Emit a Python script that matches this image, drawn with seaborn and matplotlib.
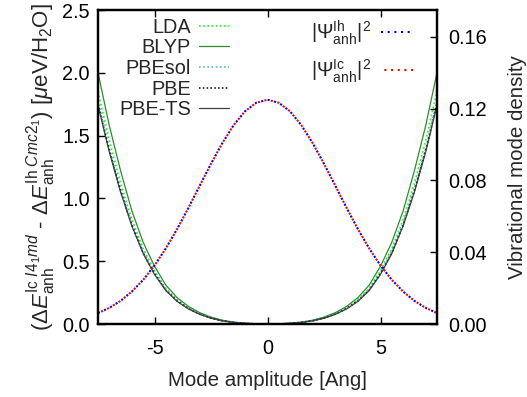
import matplotlib
matplotlib.use("Agg")
import matplotlib.pyplot as plt
import seaborn as sns
import pandas as pd

amplitude = [-7.5, -7.0, -6.5, -6.0, -5.5, -5.0, -4.5, -4.0, -3.5, -3.0, -2.5, -2.0, -1.5, -1.0, -0.5,
             0.0, 0.5, 1.0, 1.5, 2.0, 2.5, 3.0, 3.5, 4.0, 4.5, 5.0, 5.5, 6.0, 6.5, 7.0, 7.5]

lda = [1.85, 1.46, 1.12, 0.83, 0.60, 0.425, 0.285, 0.195, 0.13, 0.083, 0.05, 0.027, 0.013, 0.005, 0.001,
       0.0, 0.001, 0.005, 0.013, 0.027, 0.05, 0.083, 0.13, 0.195, 0.285, 0.425, 0.60, 0.83, 1.12, 1.46, 1.85]
blyp = [2.0, 1.58, 1.22, 0.90, 0.65, 0.46, 0.31, 0.21, 0.14, 0.09, 0.055, 0.03, 0.015, 0.006, 0.001,
        0.0, 0.001, 0.006, 0.015, 0.03, 0.055, 0.09, 0.14, 0.21, 0.31, 0.46, 0.65, 0.90, 1.22, 1.58, 2.0]
pbesol = [1.78, 1.40, 1.08, 0.80, 0.58, 0.41, 0.275, 0.187, 0.125, 0.08, 0.048, 0.026, 0.013, 0.005, 0.001,
          0.0, 0.001, 0.005, 0.013, 0.026, 0.048, 0.08, 0.125, 0.187, 0.275, 0.41, 0.58, 0.80, 1.08, 1.40, 1.78]
pbe = [1.75, 1.38, 1.06, 0.785, 0.565, 0.40, 0.27, 0.183, 0.122, 0.078, 0.047, 0.026, 0.013, 0.005, 0.001,
       0.0, 0.001, 0.005, 0.013, 0.026, 0.047, 0.078, 0.122, 0.183, 0.27, 0.40, 0.565, 0.785, 1.06, 1.38, 1.75]
pbets = [1.74, 1.37, 1.05, 0.78, 0.56, 0.395, 0.266, 0.18, 0.12, 0.077, 0.046, 0.025, 0.012, 0.005, 0.001,
         0.0, 0.001, 0.005, 0.012, 0.025, 0.046, 0.077, 0.12, 0.18, 0.266, 0.395, 0.56, 0.78, 1.05, 1.37, 1.74]

psi_ih = [0.0061, 0.0090, 0.0129, 0.0181, 0.0246, 0.0326, 0.0421, 0.0529, 0.0647, 0.0771, 0.0893, 0.1008,
          0.1108, 0.1185, 0.1233, 0.125, 0.1233, 0.1185, 0.1108, 0.1008, 0.0893, 0.0771, 0.0647, 0.0529,
          0.0421, 0.0326, 0.0246, 0.0181, 0.0129, 0.0090, 0.0061]
psi_ic = [0.0061, 0.0090, 0.0129, 0.0181, 0.0246, 0.0326, 0.0421, 0.0529, 0.0647, 0.0771, 0.0893, 0.1008,
          0.1108, 0.1185, 0.1233, 0.125, 0.1233, 0.1185, 0.1108, 0.1008, 0.0893, 0.0771, 0.0647, 0.0529,
          0.0421, 0.0326, 0.0246, 0.0181, 0.0129, 0.0090, 0.0061]

left_ticks = [0.0, 0.5, 1.0, 1.5, 2.0, 2.5]
left_ticklabels = ["0.0", "0.5", "1.0", "1.5", "2.0", "2.5"]
right_ticks = [0.0, 0.04, 0.08, 0.12, 0.16]
right_ticklabels = ["0.00", "0.04", "0.08", "0.12", "0.16"]
x_ticks = [-5, 0, 5]
x_ticklabels = ["-5", "0", "5"]

sns.set_theme(style="ticks")
plt.rcParams["font.family"] = ["Liberation Sans", "DejaVu Sans"]
plt.rcParams["mathtext.fontset"] = "custom"
plt.rcParams["mathtext.rm"] = "Liberation Sans"
plt.rcParams["mathtext.it"] = "Liberation Sans:italic"
plt.rcParams["mathtext.bf"] = "Liberation Sans:bold"
FS = 14.3     # ticks and legends
FL = 14.8     # axis labels

df = pd.DataFrame({"x": amplitude, "LDA": lda, "BLYP": blyp, "PBEsol": pbesol,
                   "PBE": pbe, "PBE-TS": pbets, "ih": psi_ih, "ic": psi_ic})

fig = plt.figure(figsize=(5.27, 3.97), dpi=100)
ax = fig.add_axes([98 / 527, 1 - 324 / 397, (437 - 98) / 527, (324 - 10) / 397])
ax2 = ax.twinx()

styles = [
    ("LDA", "#22ee22", (0, (1, 1.5)), 1.2),
    ("BLYP", "#2e8b2e", "-", 0.9),
    ("PBEsol", "#5ab4c8", (0, (1, 1.5)), 1.2),
    ("PBE", "#000000", (0, (1, 1.5)), 1.1),
    ("PBE-TS", "#404040", "-", 0.9),
]
for name, col, ls, lw in styles:
    sns.lineplot(data=df, x="x", y=name, ax=ax, color=col, linestyle=ls, linewidth=lw, label=name)

sns.lineplot(data=df, x="x", y="ih", ax=ax2, color="#0000ff", linestyle=(0, (1, 2.2)), linewidth=1.5,
             label=r"$|\Psi^{\rm Ih}_{\rm anh}|^2$")
sns.lineplot(data=df, x="x", y="ic", ax=ax2, color="#ff0000", linestyle=(1.6, (1, 2.2)), linewidth=1.5,
             label=r"$|\Psi^{\rm Ic}_{\rm anh}|^2$")

ax.set_xlim(-7.5, 7.5)
ax.set_ylim(0, 2.5)
ax2.set_ylim(0, 0.175)

ax.set_xticks(x_ticks)
ax.set_xticklabels(x_ticklabels, fontsize=FS)
ax.set_yticks(left_ticks)
ax.set_yticklabels(left_ticklabels, fontsize=FS)
ax2.set_yticks(right_ticks)
ax2.set_yticklabels(right_ticklabels, fontsize=FS)

ax.tick_params(axis="both", direction="in", length=5, width=1, top=True, right=False, colors="black")
ax.tick_params(axis="x", pad=11)
ax.tick_params(axis="y", pad=6)
ax2.tick_params(axis="y", direction="in", length=5, width=1, colors="black", pad=8)

for a in (ax, ax2):
    for s in a.spines.values():
        s.set_linewidth(1.6)
        s.set_color("black")

ax.set_xlabel("Mode amplitude [Ang]", fontsize=FL, labelpad=9)
ax.set_ylabel(r"($\Delta \mathit{E}^{\rm Ic\ \mathit{I4_1md}}_{\rm anh}$ - "
              r"$\Delta \mathit{E}^{\rm Ih\ \mathit{Cmc2_1}}_{\rm anh}$) [$\mathit{\mu}$eV/H$_2$O]",
              fontsize=16, labelpad=3)
ax2.set_ylabel("Vibrational mode density", fontsize=FL, labelpad=15)

h1, l1 = ax.get_legend_handles_labels()
h2, l2 = ax2.get_legend_handles_labels()
if ax.get_legend():
    ax.get_legend().remove()
if ax2.get_legend():
    ax2.get_legend().remove()

leg1 = ax2.legend(h1, l1, loc="upper right", bbox_to_anchor=(0.385, 0.975), frameon=False,
                  markerfirst=False, fontsize=FS, handlelength=1.5, handletextpad=0.4,
                  labelspacing=0.08, borderpad=0, borderaxespad=0)
ax2.add_artist(leg1)
leg2 = ax2.legend(h2, l2, loc="upper right", bbox_to_anchor=(0.928, 0.975), frameon=False,
                  markerfirst=False, fontsize=FS, handlelength=1.6, handletextpad=0.5,
                  labelspacing=0.55, borderpad=0, borderaxespad=0)

fig.savefig("out.png", dpi=100)
